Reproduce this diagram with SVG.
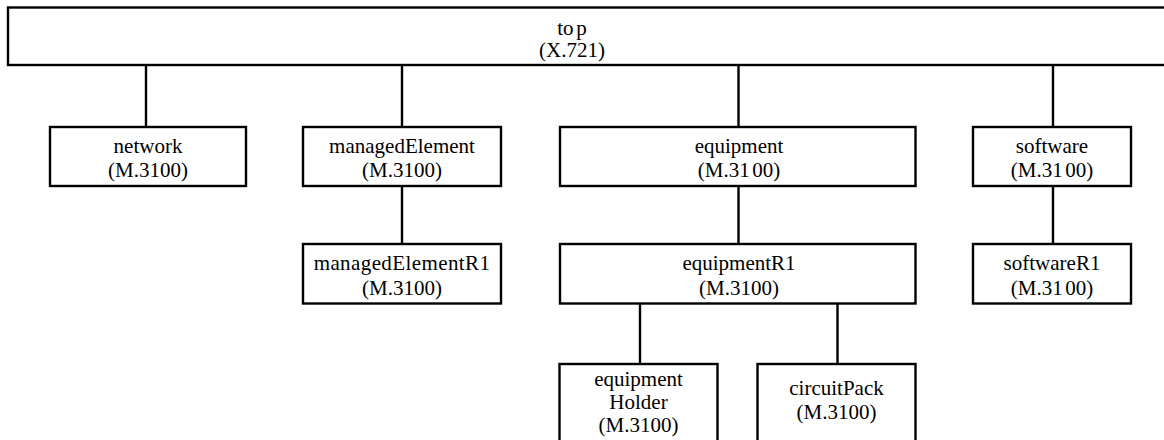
<svg xmlns="http://www.w3.org/2000/svg" width="1164" height="440" viewBox="0 0 1164 440">
  <style>
    .box { fill: #ffffff; stroke: #000000; stroke-width: 2.4; }
    .wire { stroke: #000000; stroke-width: 2.4; fill: none; }
    .lbl { font-family: "Liberation Serif", "Times New Roman", serif; font-size: 21px; fill: #000000; text-anchor: middle; }
    .tight { word-spacing: -2.6px; }
  </style>
  <rect x="0" y="0" width="1164" height="440" fill="#ffffff"/>

  <!-- inheritance connectors -->
  <g id="connectors">
    <line class="wire" x1="146" y1="65" x2="146" y2="127"/>
    <line class="wire" x1="402" y1="65" x2="402" y2="127"/>
    <line class="wire" x1="738.5" y1="65" x2="738.5" y2="127"/>
    <line class="wire" x1="1053" y1="65" x2="1053" y2="127"/>
    <line class="wire" x1="402" y1="186" x2="402" y2="244"/>
    <line class="wire" x1="738.5" y1="186" x2="738.5" y2="244"/>
    <line class="wire" x1="1053" y1="186" x2="1053" y2="244"/>
    <line class="wire" x1="640" y1="303.5" x2="640" y2="364"/>
    <line class="wire" x1="837.5" y1="303.5" x2="837.5" y2="364"/>
  </g>

  <g id="top">
    <rect class="box" x="8" y="7.5" width="1170" height="57.5"/>
    <text class="lbl tight" x="572" y="34.5">to p</text>
    <text class="lbl" x="572" y="57">(X.721)</text>
  </g>

  <g id="network">
    <rect class="box" x="50" y="127" width="196" height="59"/>
    <text class="lbl" x="148" y="153">network</text>
    <text class="lbl" x="148" y="177">(M.3100)</text>
  </g>

  <g id="managedElement">
    <rect class="box" x="303" y="127" width="198" height="59"/>
    <text class="lbl" x="402" y="153">managedElement</text>
    <text class="lbl" x="402" y="177">(M.3100)</text>
  </g>

  <g id="equipment">
    <rect class="box" x="560" y="127" width="355.5" height="59"/>
    <text class="lbl" x="739" y="153">equipment</text>
    <text class="lbl tight" x="739" y="177">(M.31 00)</text>
  </g>

  <g id="software">
    <rect class="box" x="973" y="127" width="158" height="59"/>
    <text class="lbl" x="1052" y="153">software</text>
    <text class="lbl tight" x="1052" y="177">(M.31 00)</text>
  </g>

  <g id="managedElementR1">
    <rect class="box" x="303" y="244" width="198" height="59.5"/>
    <text class="lbl" x="402" y="270" letter-spacing="0.4">managedElementR1</text>
    <text class="lbl" x="402" y="294.5">(M.3100)</text>
  </g>

  <g id="equipmentR1">
    <rect class="box" x="560" y="244" width="355.5" height="59.5"/>
    <text class="lbl" x="739" y="270">equipmentR1</text>
    <text class="lbl" x="739" y="294.5">(M.3100)</text>
  </g>

  <g id="softwareR1">
    <rect class="box" x="973" y="244" width="158" height="59.5"/>
    <text class="lbl" x="1052" y="270">softwareR1</text>
    <text class="lbl tight" x="1052" y="294.5">(M.31 00)</text>
  </g>

  <g id="equipmentHolder">
    <rect class="box" x="559.5" y="364" width="158" height="100"/>
    <text class="lbl" x="638.5" y="386">equipment</text>
    <text class="lbl" x="638.5" y="408.5">Holder</text>
    <text class="lbl" x="638.5" y="431.5">(M.3100)</text>
  </g>

  <g id="circuitPack">
    <rect class="box" x="757.5" y="364" width="158" height="100"/>
    <text class="lbl" x="836.5" y="395">circuitPack</text>
    <text class="lbl" x="836.5" y="418.5">(M.3100)</text>
  </g>
</svg>
